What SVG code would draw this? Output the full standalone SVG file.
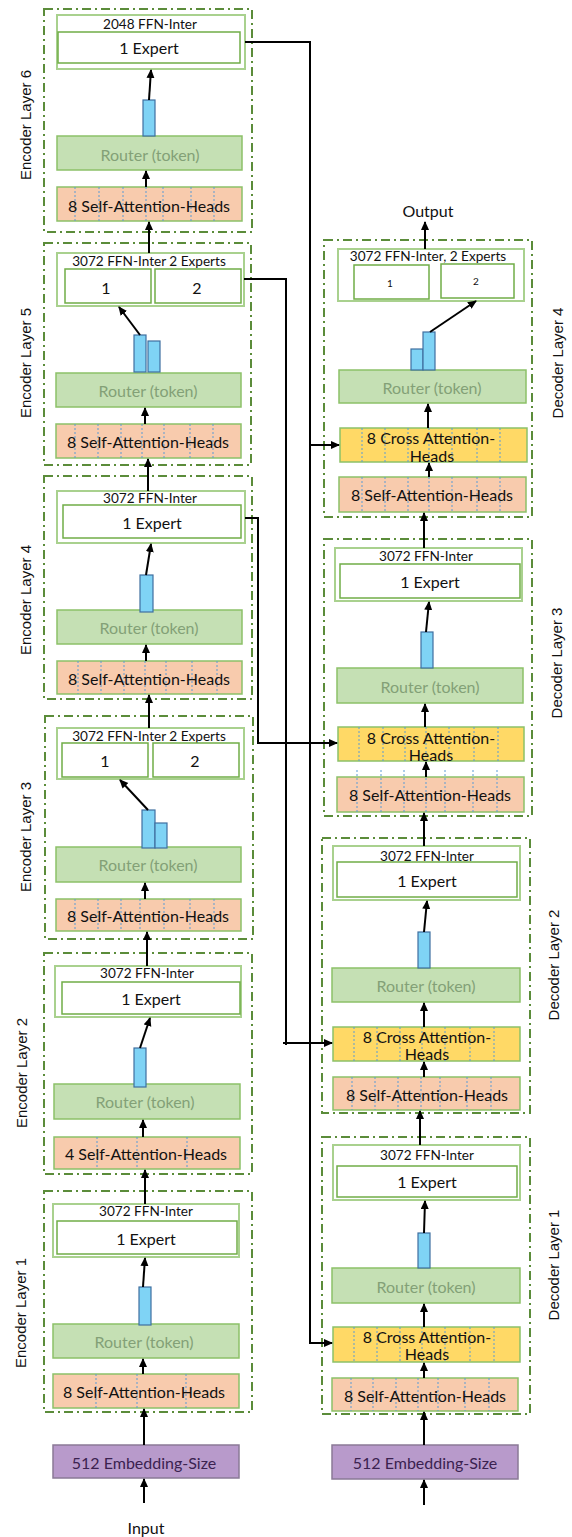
<svg xmlns="http://www.w3.org/2000/svg" width="572" height="1537" viewBox="0 0 572 1537">
<style>
text{font-family:Lato,"Liberation Sans",sans-serif;fill:#111;text-anchor:middle;dominant-baseline:central}
.t{font-size:16px}
.s{font-size:13.6px}
.xs{font-size:10px}
.lbl{font-family:"Liberation Sans",Arial,sans-serif;font-size:15px;fill:#111}
.dash{fill:none;stroke:#5b8c3a;stroke-width:2;stroke-dasharray:9 4 2 4}
.ffn{fill:#fff;stroke:#a9d18e;stroke-width:2}
.exp{fill:#fff;stroke:#70ad47;stroke-width:1.5}
.rt{fill:#c5e0b4;stroke:#8cc168;stroke-width:1.5}
.rtt{fill:#83a077}
.sa{fill:#f8cbad;stroke:#8cc168;stroke-width:1.5}
.ca{fill:#ffd966;stroke:#8cc168;stroke-width:1.5}
.dv{stroke:#5b9bd5;stroke-width:1;stroke-dasharray:2 2}
.bar{fill:#7fd3f5;stroke:#3f6fa0;stroke-width:1.2}
.emb{fill:#b89acb;stroke:#8a7a96;stroke-width:1.5}
.embt{fill:#3b2250}
.c{fill:none;stroke:#000;stroke-width:2}
.a{fill:none;stroke:#000;stroke-width:2;marker-end:url(#ah)}
</style>
<defs>
<marker id="ah" markerUnits="userSpaceOnUse" markerWidth="9" markerHeight="9" refX="8" refY="4" orient="auto">
<path d="M0,0 L9,4 L0,8 z" fill="#000"/>
</marker>
</defs>

<!-- Encoder Layer 6 -->
<g id="enc6">
<rect class="dash" x="44" y="9" width="208" height="223"/>
<rect class="ffn" x="57" y="15" width="188" height="54"/>
<text class="s" x="150" y="24">2048 FFN-Inter</text>
<rect class="exp" x="58" y="32" width="182" height="31"/>
<text class="t" x="149" y="47">1 Expert</text>
<rect class="rt" x="57" y="136" width="185" height="34"/>
<text class="t rtt" x="150" y="154">Router (token)</text>
<rect class="bar" x="143" y="100" width="12" height="36"/>
<rect class="sa" x="57" y="187" width="185" height="34"/>
<path class="dv" d="M75,187V221M99,187V221M123,187V221M146,187V221M163,187V221M191,187V221M214,187V221"/>
<text class="t" x="149" y="205">8 Self-Attention-Heads</text>
<text class="lbl" transform="translate(25,125) rotate(-90)">Encoder Layer 6</text>
</g>

<!-- Encoder Layer 5 -->
<g id="enc5">
<rect class="dash" x="44" y="243" width="207" height="222"/>
<rect class="ffn" x="57" y="253" width="187" height="53"/>
<text class="s" x="149" y="261">3072 FFN-Inter 2 Experts</text>
<rect class="exp" x="65" y="269" width="86" height="34"/>
<text class="t" x="106" y="287">1</text>
<rect class="exp" x="155" y="269" width="86" height="34"/>
<text class="t" x="197" y="287">2</text>
<rect class="rt" x="56" y="373" width="185" height="34"/>
<text class="t rtt" x="148" y="390">Router (token)</text>
<rect class="bar" x="134" y="335" width="12" height="37"/>
<rect class="bar" x="148" y="341" width="12" height="31"/>
<rect class="sa" x="56" y="424" width="185" height="34"/>
<path class="dv" d="M75,424V458M98,424V458M121,424V458M142,424V458M164,424V458M190,424V458M213,424V458"/>
<text class="t" x="148" y="441">8 Self-Attention-Heads</text>
<text class="lbl" transform="translate(25,363) rotate(-90)">Encoder Layer 5</text>
</g>

<!-- Encoder Layer 4 -->
<g id="enc4">
<rect class="dash" x="44" y="476" width="208" height="223"/>
<rect class="ffn" x="57" y="491" width="188" height="52"/>
<text class="s" x="150" y="498">3072 FFN-Inter</text>
<rect class="exp" x="63" y="505" width="178" height="33"/>
<text class="t" x="152" y="522">1 Expert</text>
<rect class="rt" x="57" y="610" width="185" height="34"/>
<text class="t rtt" x="149" y="627">Router (token)</text>
<rect class="bar" x="140" y="575" width="13" height="37"/>
<rect class="sa" x="57" y="661" width="185" height="33"/>
<path class="dv" d="M78,661V694M101,661V694M124,661V694M145,661V694M166,661V694M192,661V694M217,661V694"/>
<text class="t" x="149" y="678">8 Self-Attention-Heads</text>
<text class="lbl" transform="translate(25,600) rotate(-90)">Encoder Layer 4</text>
</g>

<!-- Encoder Layer 3 -->
<g id="enc3">
<rect class="dash" x="45" y="716" width="208" height="223"/>
<rect class="ffn" x="57" y="728" width="187" height="51"/>
<text class="s" x="149" y="736">3072 FFN-Inter 2 Experts</text>
<rect class="exp" x="62" y="743" width="86" height="34"/>
<text class="t" x="105" y="760">1</text>
<rect class="exp" x="153" y="743" width="86" height="34"/>
<text class="t" x="195" y="760">2</text>
<rect class="rt" x="56" y="847" width="185" height="35"/>
<text class="t rtt" x="148" y="864">Router (token)</text>
<rect class="bar" x="142" y="810" width="13" height="38"/>
<rect class="bar" x="155" y="823" width="12" height="25"/>
<rect class="sa" x="56" y="899" width="185" height="32"/>
<path class="dv" d="M75,899V931M98,899V931M121,899V931M140,899V931M164,899V931M190,899V931M214,899V931"/>
<text class="t" x="148" y="915">8 Self-Attention-Heads</text>
<text class="lbl" transform="translate(25,837) rotate(-90)">Encoder Layer 3</text>
</g>

<!-- Encoder Layer 2 -->
<g id="enc2">
<rect class="dash" x="44" y="953" width="208" height="221"/>
<rect class="ffn" x="55" y="966" width="186" height="51"/>
<text class="s" x="147" y="973">3072 FFN-Inter</text>
<rect class="exp" x="62" y="982" width="178" height="32"/>
<text class="t" x="151" y="998">1 Expert</text>
<rect class="rt" x="54" y="1084" width="186" height="35"/>
<text class="t rtt" x="145" y="1101">Router (token)</text>
<rect class="bar" x="134" y="1048" width="12" height="39"/>
<rect class="sa" x="54" y="1137" width="186" height="32"/>
<path class="dv" d="M97,1137V1169M137,1137V1169M187,1137V1169"/>
<text class="t" x="146" y="1153">4 Self-Attention-Heads</text>
<text class="lbl" transform="translate(21,1073) rotate(-90)">Encoder Layer 2</text>
</g>

<!-- Encoder Layer 1 -->
<g id="enc1">
<rect class="dash" x="44" y="1191" width="208" height="221"/>
<rect class="ffn" x="53" y="1204" width="186" height="53"/>
<text class="s" x="146" y="1211">3072 FFN-Inter</text>
<rect class="exp" x="57" y="1221" width="180" height="33"/>
<text class="t" x="146" y="1238">1 Expert</text>
<rect class="rt" x="53" y="1324" width="186" height="34"/>
<text class="t rtt" x="144" y="1341">Router (token)</text>
<rect class="bar" x="139" y="1287" width="12" height="38"/>
<rect class="sa" x="53" y="1374" width="186" height="34"/>
<path class="dv" d="M96,1374V1408M137,1374V1408M186,1374V1408"/>
<text class="t" x="144" y="1391">8 Self-Attention-Heads</text>
<text class="lbl" transform="translate(20,1313) rotate(-90)">Encoder Layer 1</text>
</g>

<g id="enc-emb">
<rect class="emb" x="53" y="1445" width="186" height="33"/>
<text class="t embt" x="144" y="1462">512 Embedding-Size</text>
</g>
<g id="input"><text class="t" x="146" y="1527">Input</text></g>

<!-- Decoder Layer 4 -->
<g id="dec4">
<rect class="dash" x="324" y="240" width="208" height="277"/>
<rect class="ffn" x="338" y="249" width="186" height="52"/>
<text class="s" x="428" y="256">3072 FFN-Inter, 2 Experts</text>
<rect class="exp" x="354" y="265" width="75" height="34"/>
<text class="xs" x="390" y="283">1</text>
<rect class="exp" x="441" y="264" width="73" height="34"/>
<text class="xs" x="476" y="281">2</text>
<rect class="rt" x="339" y="370" width="187" height="33"/>
<text class="t rtt" x="432" y="387">Router (token)</text>
<rect class="bar" x="411" y="349" width="12" height="21"/>
<rect class="bar" x="423" y="332" width="12" height="38"/>
<rect class="ca" x="340" y="428" width="187" height="34"/>
<path class="dv" d="M362,428V462M385,428V462M408,428V462M429,428V462M452,428V462M477,428V462M500,428V462"/>
<text class="t" x="431" y="437">8 Cross  Attention-</text>
<text class="t" x="432" y="455">Heads</text>
<rect class="sa" x="339" y="477" width="187" height="35"/>
<path class="dv" d="M362,477V512M385,477V512M408,477V512M429,477V512M452,477V512M477,477V512M500,477V512"/>
<text class="t" x="432" y="494">8 Self-Attention-Heads</text>
<text class="lbl" transform="translate(557,363) rotate(-90)">Decoder Layer 4</text>
</g>
<g id="output"><text class="t" x="428" y="210">Output</text></g>

<!-- Decoder Layer 3 -->
<g id="dec3">
<rect class="dash" x="324" y="539" width="208" height="277"/>
<rect class="ffn" x="335" y="548" width="187" height="53"/>
<text class="s" x="426" y="556">3072 FFN-Inter</text>
<rect class="exp" x="340" y="564" width="180" height="34"/>
<text class="t" x="430" y="581">1 Expert</text>
<rect class="rt" x="337" y="668" width="186" height="35"/>
<text class="t rtt" x="430" y="686">Router (token)</text>
<rect class="bar" x="421" y="632" width="12" height="36"/>
<rect class="ca" x="338" y="727" width="186" height="34"/>
<path class="dv" d="M359,727V761M383,727V761M405,727V761M426,727V761M449,727V761M474,727V761M498,727V761"/>
<text class="t" x="431" y="737">8 Cross  Attention-</text>
<text class="t" x="431" y="754">Heads</text>
<rect class="sa" x="337" y="777" width="187" height="35"/>
<path class="dv" d="M357,770V812M381,770V812M404,770V812M426,770V812M445,770V812M473,770V812M497,770V812"/>
<text class="t" x="430" y="794">8 Self-Attention-Heads</text>
<text class="lbl" transform="translate(556,663) rotate(-90)">Decoder Layer 3</text>
</g>

<!-- Decoder Layer 2 -->
<g id="dec2">
<rect class="dash" x="322" y="838" width="208" height="275"/>
<rect class="ffn" x="333" y="846" width="187" height="54"/>
<text class="s" x="427" y="856">3072 FFN-Inter</text>
<rect class="exp" x="337" y="862" width="180" height="35"/>
<text class="t" x="427" y="880">1 Expert</text>
<rect class="rt" x="332" y="968" width="188" height="34"/>
<text class="t rtt" x="426" y="985">Router (token)</text>
<rect class="bar" x="418" y="932" width="12" height="36"/>
<rect class="ca" x="333" y="1027" width="187" height="34"/>
<path class="dv" d="M354,1027V1061M377,1027V1061M400,1027V1061M422,1027V1061M445,1027V1061M470,1027V1061M494,1027V1061"/>
<text class="t" x="427" y="1036">8 Cross  Attention-</text>
<text class="t" x="427" y="1053">Heads</text>
<rect class="sa" x="333" y="1077" width="187" height="33"/>
<path class="dv" d="M352,1077V1110M375,1077V1110M398,1077V1110M421,1077V1110M440,1077V1110M467,1077V1110M491,1077V1110"/>
<text class="t" x="427" y="1094">8 Self-Attention-Heads</text>
<text class="lbl" transform="translate(553,965) rotate(-90)">Decoder Layer 2</text>
</g>

<!-- Decoder Layer 1 -->
<g id="dec1">
<rect class="dash" x="322" y="1137" width="208" height="277"/>
<rect class="ffn" x="333" y="1145" width="187" height="55"/>
<text class="s" x="427" y="1155">3072 FFN-Inter</text>
<rect class="exp" x="337" y="1166" width="180" height="31"/>
<text class="t" x="427" y="1181">1 Expert</text>
<rect class="rt" x="332" y="1268" width="188" height="35"/>
<text class="t rtt" x="426" y="1286">Router (token)</text>
<rect class="bar" x="418" y="1233" width="12" height="35"/>
<rect class="ca" x="333" y="1327" width="187" height="35"/>
<path class="dv" d="M354,1327V1362M377,1327V1362M400,1327V1362M422,1327V1362M445,1327V1362M470,1327V1362M494,1327V1362"/>
<text class="t" x="427" y="1336">8 Cross  Attention-</text>
<text class="t" x="427" y="1353">Heads</text>
<rect class="sa" x="332" y="1378" width="186" height="33"/>
<path class="dv" d="M351,1378V1411M373,1378V1411M396,1378V1411M418,1378V1411M438,1378V1411M465,1378V1411M489,1378V1411"/>
<text class="t" x="425" y="1395">8 Self-Attention-Heads</text>
<text class="lbl" transform="translate(553,1265) rotate(-90)">Decoder Layer 1</text>
</g>

<g id="dec-emb">
<rect class="emb" x="332" y="1445" width="186" height="34"/>
<text class="t embt" x="425" y="1462">512 Embedding-Size</text>
</g>

<!-- Connectors -->
<g id="connectors">
<path class="a" d="M144,1503V1479"/>
<path class="a" d="M144,1445V1409"/>
<path class="a" d="M143,1374V1359"/>
<path class="a" d="M143,1287L145,1258"/>
<path class="a" d="M145,1204V1170"/>
<path class="a" d="M143,1137V1120"/>
<path class="a" d="M140,1048L150,1018"/>
<path class="a" d="M147,966V932"/>
<path class="a" d="M145,899V883"/>
<path class="a" d="M148,810L120,780"/>
<path class="a" d="M149,728V695"/>
<path class="a" d="M146,661V645"/>
<path class="a" d="M146,575L151,544"/>
<path class="a" d="M148,491V459"/>
<path class="a" d="M145,424V408"/>
<path class="a" d="M140,335L119,307"/>
<path class="a" d="M149,253V222"/>
<path class="a" d="M146,187V171"/>
<path class="a" d="M149,100L151,70"/>

<path class="a" d="M424,1505V1480"/>
<path class="a" d="M424,1445V1412"/>
<path class="a" d="M424,1378V1363"/>
<path class="a" d="M424,1327V1304"/>
<path class="a" d="M424,1233L425,1201"/>
<path class="a" d="M420,1145V1111"/>
<path class="a" d="M424,1077V1062"/>
<path class="a" d="M424,1027V1003"/>
<path class="a" d="M424,932L427,901"/>
<path class="a" d="M424,846V813"/>
<path class="a" d="M426,777V762"/>
<path class="a" d="M425,727V704"/>
<path class="a" d="M426,632L429,602"/>
<path class="a" d="M424,548V513"/>
<path class="a" d="M429,477V463"/>
<path class="a" d="M428,428V404"/>
<path class="a" d="M430,332L476,301"/>
<path class="a" d="M425,249V222"/>

<path class="a" d="M245,42H310V1343H332"/>
<path class="a" d="M310,445H339"/>
<path class="c" d="M244,279H286V1045"/>
<path class="a" d="M283,1043H332"/>
<path class="a" d="M245,518H258V743H337"/>
</g>
</svg>
